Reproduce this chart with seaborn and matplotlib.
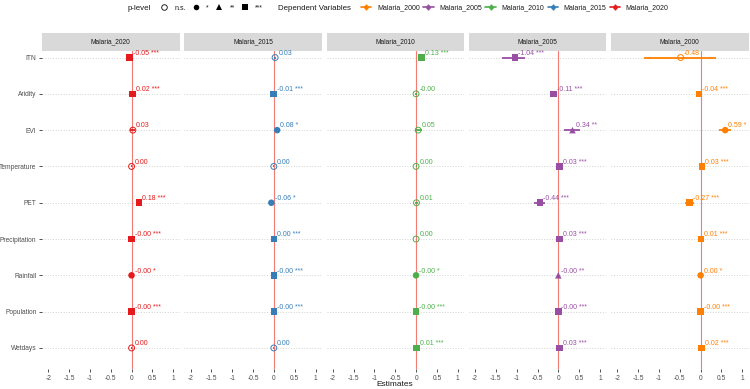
import numpy as np
import pandas as pd
import matplotlib
matplotlib.use("Agg")
import matplotlib.pyplot as plt
import seaborn as sns
from matplotlib.lines import Line2D
from matplotlib.legend_handler import HandlerTuple
from matplotlib.patches import Rectangle

# ---------------- data ----------------
variables = ["ITN", "Aridity", "EVI", "Temperature", "PET",
             "Precipitation", "Rainfall", "Population", "Wetdays"]
panel_models = ["Malaria_2020", "Malaria_2015", "Malaria_2010", "Malaria_2005", "Malaria_2000"]
legend_models = ["Malaria_2000", "Malaria_2005", "Malaria_2010", "Malaria_2015", "Malaria_2020"]
model_colors = ["#FF7F00", "#984EA3", "#4DAF4A", "#377EB8", "#E41A1C"]  # for legend_models

est_2020 = [-0.05, 0.02, 0.03, 0.0, 0.18, -0.001, -0.001, -0.001, 0.0]
lo_2020 = [-0.07, 0.01, -0.03, -0.01, 0.15, -0.005, -0.005, -0.005, -0.01]
hi_2020 = [-0.03, 0.03, 0.09, 0.01, 0.21, 0.005, 0.005, 0.005, 0.01]
p_2020 = ["***", "***", "n.s.", "n.s.", "***", "***", "*", "***", "n.s."]

est_2015 = [0.03, -0.01, 0.08, 0.0, -0.06, 0.001, -0.001, -0.001, 0.0]
lo_2015 = [0.0, -0.02, 0.04, -0.01, -0.10, -0.005, -0.005, -0.005, -0.01]
hi_2015 = [0.06, 0.0, 0.12, 0.01, -0.02, 0.005, 0.005, 0.005, 0.01]
p_2015 = ["n.s.", "***", "*", "n.s.", "*", "***", "***", "***", "n.s."]

est_2010 = [0.13, -0.001, 0.05, 0.0, 0.01, 0.0, -0.001, -0.001, 0.01]
lo_2010 = [0.10, -0.02, -0.03, -0.01, -0.02, -0.005, -0.005, -0.005, 0.0]
hi_2010 = [0.16, 0.02, 0.13, 0.01, 0.04, 0.005, 0.005, 0.005, 0.02]
p_2010 = ["***", "n.s.", "n.s.", "n.s.", "n.s.", "n.s.", "*", "***", "***"]

est_2005 = [-1.04, -0.11, 0.34, 0.03, -0.44, 0.03, -0.001, -0.001, 0.03]
lo_2005 = [-1.35, -0.15, 0.14, 0.02, -0.58, 0.02, -0.005, -0.005, 0.02]
hi_2005 = [-0.79, -0.07, 0.52, 0.04, -0.31, 0.04, 0.005, 0.005, 0.04]
p_2005 = ["***", "***", "**", "***", "***", "***", "**", "***", "***"]

est_2000 = [-0.48, -0.04, 0.59, 0.03, -0.27, 0.01, 0.001, -0.001, 0.02]
lo_2000 = [-1.35, -0.06, 0.45, 0.02, -0.38, 0.0, -0.005, -0.005, 0.01]
hi_2000 = [0.38, -0.02, 0.73, 0.04, -0.17, 0.02, 0.005, 0.005, 0.03]
p_2000 = ["n.s.", "***", "*", "***", "***", "***", "*", "***", "***"]

x_ticks = [-2, -1.5, -1, -0.5, 0, 0.5, 1]
x_ticklabels = ["-2", "-1.5", "-1", "-0.5", "0", "0.5", "1"]
p_levels = ["n.s.", "*", "**", "***"]

# ---------------- table ----------------
series = {
    "Malaria_2020": (est_2020, lo_2020, hi_2020, p_2020),
    "Malaria_2015": (est_2015, lo_2015, hi_2015, p_2015),
    "Malaria_2010": (est_2010, lo_2010, hi_2010, p_2010),
    "Malaria_2005": (est_2005, lo_2005, hi_2005, p_2005),
    "Malaria_2000": (est_2000, lo_2000, hi_2000, p_2000),
}
rows = []
for m, (e, lo, hi, p) in series.items():
    for i, v in enumerate(variables):
        rows.append(dict(model=m, var=v, y=i, est=e[i], lo=lo[i], hi=hi[i], p=p[i]))
df = pd.DataFrame(rows)
color_map = dict(zip(legend_models, model_colors))

# ---------------- figure ----------------
sns.set_theme(style="white")
plt.rcParams["font.family"] = ["Liberation Sans", "DejaVu Sans"]

W, H = 750, 389
fig = plt.figure(figsize=(W / 100, H / 100), dpi=100)

panel_left0 = 42
panel_step = 142.25
panel_w = 137.5
panel_top = 51
panel_bot = 369
strip_h = 18

tick_col = "#4d4d4d"
fs = 4.8

axes = []
for k, m in enumerate(panel_models):
    left = panel_left0 + k * panel_step
    ax = fig.add_axes([left / W, 1 - panel_bot / H, panel_w / W, (panel_bot - panel_top) / H])
    axes.append(ax)
    col = color_map[m]
    d = df[df["model"] == m]

    for yy in range(len(variables)):
        ax.axhline(yy, color="#c4c4c4", lw=0.6, ls=(0, (1, 2.2)), zorder=0)
    ax.axvline(0, color="#F47A74", lw=0.8, zorder=1)

    ax.hlines(d["y"], d["lo"], d["hi"], color=col, lw=1.3, zorder=2)

    sig = d[d["p"] != "n.s."]
    if len(sig):
        sns.scatterplot(data=sig, x="est", y="y", style="p",
                        style_order=["*", "**", "***"],
                        markers={"*": "o", "**": "^", "***": "s"},
                        color=col, s=22, linewidth=0, ax=ax, legend=False, zorder=3)
    ns = d[d["p"] == "n.s."]
    if len(ns):
        sns.scatterplot(data=ns, x="est", y="y", marker="o",
                        facecolor="none", edgecolor=col, s=18, linewidth=0.7,
                        ax=ax, legend=False, zorder=3)

    for _, r in d.iterrows():
        lab = f"{r['est']:.2f}" + ("" if r["p"] == "n.s." else " " + r["p"])
        ax.annotate(lab, (r["est"], r["y"]), xytext=(2.3, 0.6), textcoords="offset points",
                    ha="left", va="bottom", fontsize=5.0, color=col, zorder=4)

    ax.set_xlim(-2.15, 1.15)
    ax.set_ylim(len(variables) - 1 + 0.58, -0.18)
    ax.set_xticks(x_ticks)
    ax.set_xticklabels(x_ticklabels)
    ax.set_xlabel("")
    ax.set_ylabel("")
    if k == 0:
        ax.set_yticks(range(len(variables)))
        ax.set_yticklabels(variables)
        ax.tick_params(axis="y", left=True, length=2.5, width=0.6, color="#333333",
                       labelsize=fs, labelcolor=tick_col, pad=1.5)
    else:
        ax.set_yticks([])
    ax.tick_params(axis="x", bottom=True, length=2.5, width=0.6, color="#333333",
                   labelsize=fs, labelcolor=tick_col, pad=1.5)
    for s in ax.spines.values():
        s.set_visible(False)
    ax.grid(False)

    hfrac = strip_h / (panel_bot - panel_top)
    ax.add_patch(Rectangle((0, 1), 1, hfrac, transform=ax.transAxes, clip_on=False,
                           facecolor="#D9D9D9", edgecolor="none"))
    ax.text(0.5, 1 + hfrac / 2, m, transform=ax.transAxes, ha="center", va="center",
            fontsize=fs, color="#1a1a1a")

fig.text(395 / W, 1 - 384 / H, "Estimates", ha="center", va="center", fontsize=6, color="#1a1a1a")

# ---------------- legends ----------------
ly = 1 - 8 / H
fig.text(128 / W, ly, "p-level", ha="left", va="center", fontsize=5.7, color="#1a1a1a")
shape_handles = [
    Line2D([], [], marker="o", ls="", mfc="none", mec="black", mew=0.6, ms=4),
    Line2D([], [], marker="o", ls="", mfc="black", mec="black", mew=0, ms=4),
    Line2D([], [], marker="^", ls="", mfc="black", mec="black", mew=0, ms=4.6),
    Line2D([], [], marker="s", ls="", mfc="black", mec="black", mew=0, ms=4),
]
leg1 = fig.legend(shape_handles, p_levels, loc="center left", bbox_to_anchor=(159 / W, ly),
                  ncol=4, frameon=False, fontsize=5.0, handlelength=1.5, handletextpad=0.7,
                  columnspacing=0.75, borderpad=0, borderaxespad=0)
for t in leg1.get_texts():
    t.set_color("#1a1a1a")

fig.text(278 / W, ly, "Dependent Variables", ha="left", va="center", fontsize=5.7, color="#1a1a1a")
col_handles = []
for c in model_colors:
    h1 = Line2D([], [], color=c, lw=1.2, marker="o", ms=3.4, mew=0)
    h2 = Line2D([], [], color=c, ls="", marker="|", ms=5, mew=1.0)
    col_handles.append((h1, h2))
leg2 = fig.legend(col_handles, legend_models, loc="center left", bbox_to_anchor=(361 / W, ly),
                  ncol=5, frameon=False, fontsize=5.0, handlelength=1.5, handletextpad=0.8,
                  columnspacing=0.5, borderpad=0, borderaxespad=0,
                  handler_map={tuple: HandlerTuple(ndivide=1)})
for t in leg2.get_texts():
    t.set_color("#1a1a1a")

fig.savefig("out.png", dpi=100, facecolor="white")
